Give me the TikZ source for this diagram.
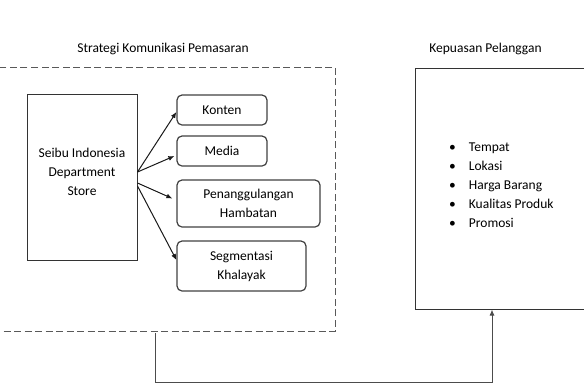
\documentclass[tikz,border=0pt]{standalone}
\usepackage{fontspec}
\setmainfont{Carlito}
\usetikzlibrary{arrows.meta, positioning}

\begin{document}
\begin{tikzpicture}[
  x = 1pt, y = -1pt,
  every node/.style = {font=\fontsize{13.5}{19}\selectfont, text=black},
  card/.style  = {rectangle, rounded corners=5pt, draw=black!75, line width=1.2pt,
                  align=center, inner sep=0pt},
  frame/.style = {rectangle, draw=black!65, dash pattern=on 7pt off 3.5pt,
                  line width=1pt, inner sep=0pt},
  plain/.style = {rectangle, draw=black!80, line width=1pt, align=center,
                  inner sep=0pt},
  head/.style  = {inner sep=0pt, anchor=base},
  arr/.style   = {-{Latex[length=6pt,width=5pt]}, line width=1pt, draw=black!90},
  link/.style  = {-{Latex[length=6pt,width=5pt]}, line width=1pt, draw=black!70}
]
\useasboundingbox (0,0) rectangle (584,384);

% ---- strategy frame (left) --------------------------------------------
\node[frame, minimum width=342pt, minimum height=264pt, at={(164,199)}] (strat) {};
\node[head, at={(163,52)}] (judulA) {Strategi Komunikasi Pemasaran};

\node[plain, minimum width=110pt, minimum height=166pt, text depth=11pt,
      at={(82,177)}] (seibu) {Seibu Indonesia\\Department\\Store};

\node[card, minimum width=90pt,  minimum height=30pt, at={(222,110)}]   (konten)   {Konten};
\node[card, minimum width=90pt,  minimum height=30pt, at={(222,151)}]   (media)    {Media};
\node[card, minimum width=143pt, minimum height=47pt, at={(248.5,203.5)}] (hambatan) {Penanggulangan\\Hambatan};
\node[card, minimum width=129pt, minimum height=50pt, at={(241.5,266)}] (khalayak) {Segmentasi\\Khalayak};

\draw[arr] ([yshift=5pt]seibu.east)  -- ([yshift=-2pt]konten.west);
\draw[arr] ([yshift=5pt]seibu.east)  -- ([xshift=-2pt,yshift=-5pt]media.west);
\draw[arr] ([yshift=-6pt]seibu.east) -- ([xshift=-4pt,yshift=5pt]hambatan.west);
\draw[arr] ([yshift=-9pt]seibu.east) -- ([yshift=6pt]khalayak.west);

% ---- customer satisfaction (right) ------------------------------------
\node[head, at={(485.5,52)}] (judulB) {Kepuasan Pelanggan};
\node[plain, minimum width=190pt, minimum height=241pt, at={(510,188.5)}] (kepuasan) {};
\node[anchor=base west, inner sep=0pt, at={(449,151)}] (kriteria) {%
  \begin{tabular}[t]{@{}l@{\hspace{13pt}}l@{}}
    \textbullet & Tempat\\
    \textbullet & Lokasi\\
    \textbullet & Harga Barang\\
    \textbullet & Kualitas Produk\\
    \textbullet & Promosi
  \end{tabular}};

% ---- link from frame to satisfaction ----------------------------------
\coordinate (tail) at (155,333);
\draw[link] (tail) |- ++(337,49) -- ([xshift=-18pt]kepuasan.south);

\end{tikzpicture}
\end{document}
